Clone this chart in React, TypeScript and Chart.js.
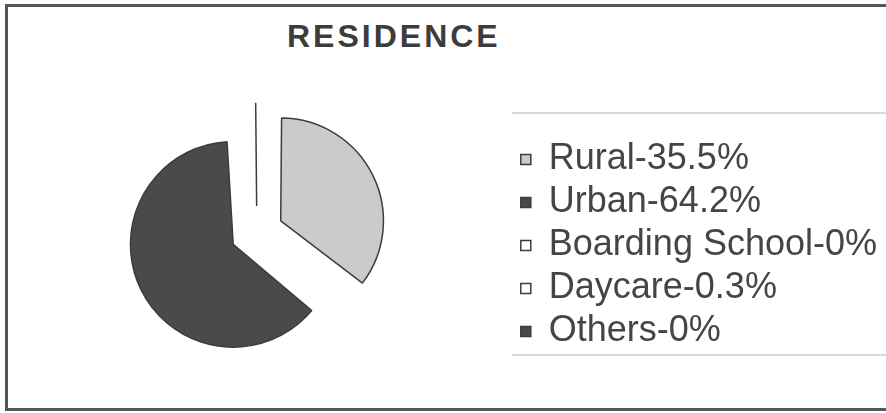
import React, { useEffect, useRef } from "react";
import { Chart, registerables } from "chart.js";

Chart.register(...registerables);

const categories = ["Rural", "Urban", "Boarding School", "Daycare", "Others"];
const values = [35.5, 64.2, 0, 0.3, 0];
const sliceColors = ["#cbcbcb", "#4a4a4a", "#ffffff", "#ffffff", "#4a4a4a"];
const titleText = "RESIDENCE";

const SLICE_OFFSET = 106;

// Chart.js enlarges offset arcs (radius + offset/4 * (1 - sin(min(PI, circ)))); undo that so all slices share one radius.
const equalRadius = {
  id: "equalRadius",
  afterDatasetsUpdate(chart: any) {
    const meta = chart.getDatasetMeta(0);
    meta.data.forEach((arc: any) => {
      const off = ((arc.options && arc.options.offset) || 0) / 4;
      const circ = arc.circumference || 0;
      const fix = 1 - Math.sin(Math.min(Math.PI, circ));
      arc.outerRadius = Math.max(arc.outerRadius - off * fix, 0);
    });
  },
};

export default function App() {
  const ref = useRef<HTMLCanvasElement | null>(null);

  useEffect(() => {
    if (!ref.current) return;
    const labels = categories.map((c, i) => `${c}-${values[i]}%`);
    const chart = new Chart(ref.current, {
      type: "pie",
      data: {
        labels,
        datasets: [
          {
            data: values,
            backgroundColor: sliceColors,
            borderColor: "#3c3c3c",
            borderWidth: 1.5,
            offset: SLICE_OFFSET,
          },
        ],
      },
      options: {
        responsive: false,
        animation: false,
        events: [],
        layout: { padding: { left: 0, right: 13, top: 76, bottom: 24 } },
        plugins: {
          title: { display: false },
          tooltip: { enabled: false },
          legend: {
            position: "right",
            align: "center",
            title: {
              display: true,
              text: " ",
              font: { size: 10, lineHeight: 1.2 },
              padding: { top: 8, bottom: 6 },
            },
            labels: {
              boxWidth: 10,
              boxHeight: 10,
              padding: 7,
              color: "#454545",
              font: { size: 36, family: "'Liberation Sans', Arial, sans-serif" },
            },
          },
        },
      },
      plugins: [equalRadius],
    });
    return () => chart.destroy();
  }, []);

  return (
    <div
      style={{
        position: "fixed",
        left: 0,
        top: 0,
        width: 886,
        height: 413,
        overflow: "hidden",
        background: "#ffffff",
      }}
    >
      <div
        style={{
          position: "absolute",
          left: 5,
          top: 4,
          width: 920,
          height: 407,
          boxSizing: "border-box",
          borderTop: "3px solid #555555",
          borderLeft: "3px solid #555555",
          borderBottom: "3px solid #555555",
        }}
      />
      <div style={{ position: "absolute", left: 512, top: 112, width: 380, height: 2, background: "#d8d8d8" }} />
      <div style={{ position: "absolute", left: 512, top: 354, width: 380, height: 2, background: "#d8d8d8" }} />
      <div
        style={{
          position: "absolute",
          left: 287,
          top: 20,
          fontFamily: "'Liberation Sans', Arial, sans-serif",
          fontWeight: "bold",
          fontSize: 32,
          lineHeight: "32px",
          letterSpacing: "3px",
          color: "#3c3c3c",
          whiteSpace: "nowrap",
        }}
      >
        {titleText}
      </div>
      <canvas
        ref={ref}
        width={900}
        height={413}
        style={{ position: "absolute", left: 0, top: 0, width: 900, height: 413 }}
      />
    </div>
  );
}
